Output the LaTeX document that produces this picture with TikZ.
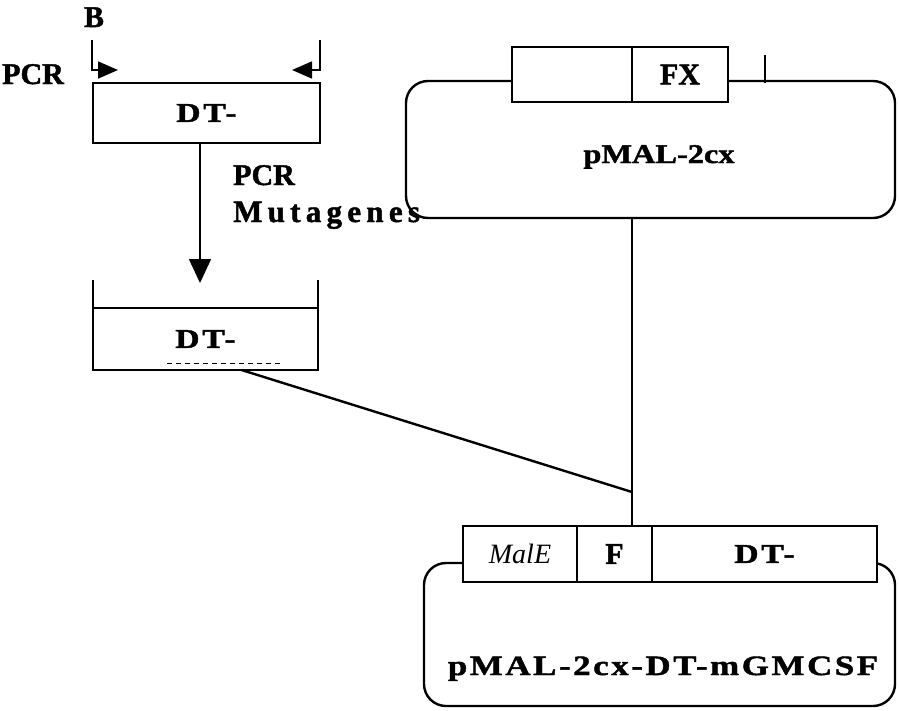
\documentclass[tikz,border=0pt]{standalone}
\usepackage{fontspec}
\setmainfont{Liberation Serif}[BoldFeatures={FakeBold=1.5}]
\usetikzlibrary{positioning,calc,arrows.meta}

\begin{document}
\begin{tikzpicture}[x=1pt,y=-1pt,
	box/.style={rectangle,draw,line width=2.4pt,inner sep=0pt,outer sep=0pt,fill=white},
	plasmid/.style={rectangle,draw,line width=2.4pt,rounded corners=22pt,inner sep=0pt,outer sep=0pt},
	lbl/.style={font=\bfseries\fontsize{30}{32}\selectfont,inner sep=0pt},
	wide/.style={font=\bfseries\fontsize{31}{33}\selectfont\addfontfeature{LetterSpace=17},inner sep=0pt},
	dt/.style={font=\bfseries\fontsize{27}{30}\selectfont\addfontfeature{FakeStretch=1.25,LetterSpace=10}},
	primer/.style={line width=1.6pt,-{Triangle[length=20pt,width=17pt]}}]
		\useasboundingbox (0,0) rectangle (899,710);

		% PCR fragment
		\node [lbl,anchor=base] (blabel) at (94,27) {B};
		\node [lbl,anchor=base west] (pcrlabel) at (2,84) {PCR};
		\node [box,dt,minimum width=227pt,minimum height=60pt] (frag) at (206.5,113) {DT-};
		\coordinate (fwdtop) at (92,40);
		\coordinate (fwdtip) at (118,70);
		\coordinate (revtop) at (320,40);
		\coordinate (revtip) at (292,70);
		\draw [primer] (fwdtop) |- (fwdtip);
		\draw [primer] (revtop) |- (revtip);

		% mutagenesis step
		\node [box,dt,minimum width=225pt,minimum height=62pt] (mutfrag) at (205.5,339) {DT-};
		\coordinate (arrtop) at (200,143);
		\coordinate (arrtip) at (200,283);
		\draw [line width=1.6pt,-{Triangle[length=24pt,width=22pt]}] (arrtop) -- (arrtip);
		\node [lbl,anchor=base west] (mutpcr) at (233,185) {PCR};
		\node [wide,anchor=base west] (mutlabel) at (233,222) {Mutagenes};
		\draw [line width=2.4pt] (mutfrag.north west) -- ++(0,-28);
		\draw [line width=2.4pt] (mutfrag.north east) -- ++(0,-28);
		\draw [line width=1pt,dash pattern=on 5pt off 4pt] (167,363) -- (280,363);

		% vector
		\node [plasmid,minimum width=489pt,minimum height=137pt] (vector) at (650.5,149.5) {};
		\node [box,minimum width=120pt,minimum height=55pt] (tagbox) at (572,74.5) {};
		\node [box,lbl,minimum width=96pt,minimum height=55pt,right=0pt of tagbox] (fxbox) {FX};
		\draw [line width=1.6pt] (765,55) -- (765,83);
		\node [anchor=base,inner sep=0pt,font=\bfseries\fontsize{27}{30}\selectfont\addfontfeature{FakeStretch=1.2}] (vectitle) at (659,163) {pMAL-2cx};

		% product
		\node [plasmid,minimum width=471pt,minimum height=143pt] (product) at (659.5,634.5) {};
		\node [box,font=\itshape\fontsize{28}{30}\selectfont,minimum width=114pt,minimum height=56pt] (malebox) at (520,554) {MalE};
		\node [box,lbl,minimum width=75pt,minimum height=56pt,right=0pt of malebox] (fbox) {F};
		\node [box,dt,minimum width=225pt,minimum height=56pt,right=0pt of fbox] (dtbox) {DT-};
		\node [anchor=base,inner sep=0pt,font=\bfseries\fontsize{28}{30}\selectfont\addfontfeature{FakeStretch=1.25,LetterSpace=9}] (prodtitle) at (663,675) {pMAL-2cx-DT-mGMCSF};

		% cloning
		\coordinate (join) at (fxbox.west |- 0,492);
		\draw [line width=1.4pt] (fxbox.west |- vector.south) -- (fbox.north -| fxbox.west);
		\draw [line width=2.4pt] ($(mutfrag.south west)!0.66!(mutfrag.south east)$) -- (join);
\end{tikzpicture}
\end{document}
